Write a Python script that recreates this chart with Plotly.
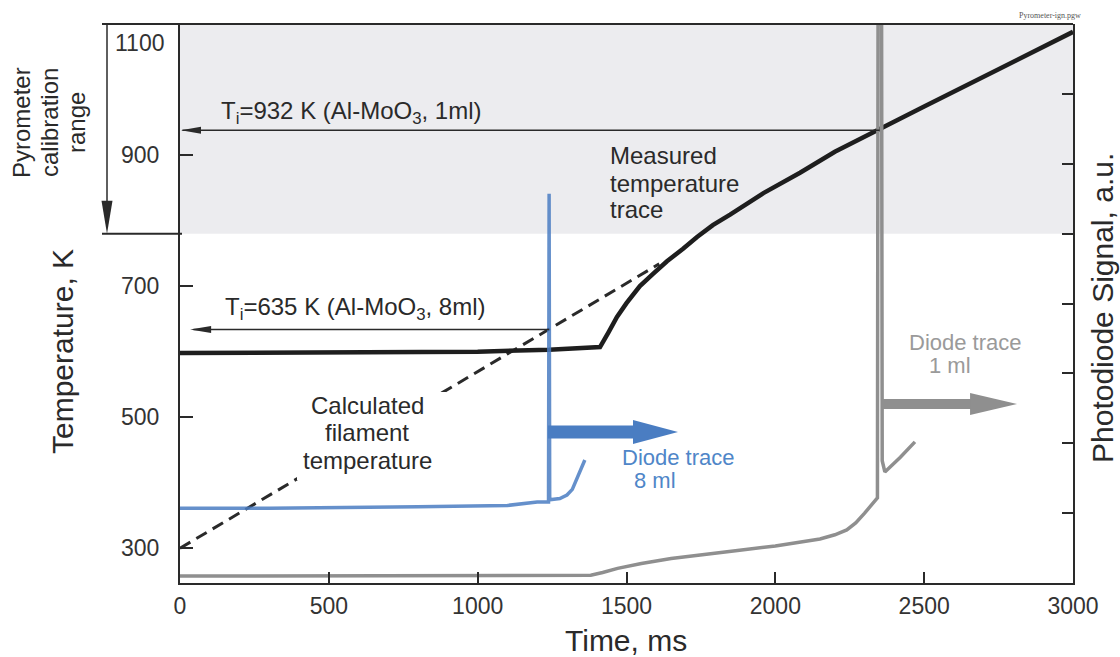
import plotly.graph_objects as go

# ---------------- data ----------------
time_measured = [0, 500, 1000, 1240, 1411, 1440, 1468, 1500, 1545, 1590, 1636, 1690, 1737, 1790, 1848,
                 1960, 2083, 2200, 2350, 2500, 2750, 3000]
temp_measured = [598, 599, 600, 603, 607, 630, 653, 674, 700, 719, 738, 757, 775, 793, 809,
                 842, 873, 905, 940, 974, 1031, 1088]

time_calculated = [0, 1610]
temp_calculated = [300, 734]

time_diode_8ml = [0, 300, 800, 1100, 1200, 1238, 1240, 1242, 1276, 1300, 1318, 1332, 1346, 1360]
signal_diode_8ml = [1.07, 1.07, 1.09, 1.11, 1.16, 1.16, 5.57, 1.19, 1.21, 1.26, 1.34, 1.47, 1.62, 1.76]

time_diode_1ml = [0, 1000, 1380, 1420, 1470, 1550, 1650, 1880, 2000, 2150, 2200, 2240, 2270, 2300, 2330,
                  2343, 2345, 2357, 2359, 2368, 2420, 2469]
signal_diode_1ml = [0.10, 0.10, 0.11, 0.15, 0.21, 0.28, 0.35, 0.47, 0.53, 0.63, 0.69, 0.76, 0.86, 1.00, 1.15,
                    1.22, 8.0, 8.0, 1.75, 1.59, 1.80, 2.02]

x_ticks = [0, 500, 1000, 1500, 2000, 2500, 3000]
y_ticks = [300, 500, 700, 900]
y2_ticks = [1, 2, 3, 4, 5, 6, 7]

# annotated values
ti_1ml_time, ti_1ml_temp = 2350, 938
ti_8ml_time, ti_8ml_temp = 1240, 634
calib_min, calib_max = 780, 1100
arrow8_sig, arrow8_tip = 2.16, 1673
arrow1_sig, arrow1_start, arrow1_tip = 2.56, 2355, 2812

# ---------------- layout geometry ----------------
W, H = 1120, 657
L, R, T, B = 180, 47, 24, 74
PW, PH = W - L - R, H - T - B
FONT = "Liberation Sans, Arial, sans-serif"
DARK = "#2a2a2a"
BLUE = "#4a7dc2"
GRAY = "#8f8f8f"


def px(xp):
    return (xp - L) / PW


def py(yp):
    return (T + PH - yp) / PH


fig = go.Figure()

fig.add_trace(go.Scatter(x=time_diode_1ml, y=signal_diode_1ml, yaxis="y2", mode="lines",
                         line=dict(color=GRAY, width=3.5), showlegend=False))
fig.add_trace(go.Scatter(x=time_diode_8ml, y=signal_diode_8ml, yaxis="y2", mode="lines",
                         line=dict(color="rgba(74,125,194,0.85)", width=3.5), showlegend=False))
fig.add_trace(go.Scatter(x=time_calculated, y=temp_calculated, mode="lines",
                         line=dict(color=DARK, width=3, dash="12px,7px"), showlegend=False))
fig.add_trace(go.Scatter(x=time_measured, y=temp_measured, mode="lines",
                         line=dict(color="#1e1e1e", width=4.5), showlegend=False))

shapes = []
# calibration shaded band
shapes.append(dict(type="rect", xref="x", yref="y", x0=0, x1=3000, y0=calib_min, y1=calib_max,
                   fillcolor="#ececef", line=dict(width=0), layer="below"))
# top border extended left
shapes.append(dict(type="line", xref="paper", yref="paper", x0=px(102), x1=1, y0=1, y1=1,
                   line=dict(color=DARK, width=2), layer="above"))
# lower bound of calibration range
shapes.append(dict(type="line", xref="paper", yref="y", x0=px(102), x1=px(182), y0=calib_min, y1=calib_min,
                   line=dict(color=DARK, width=2), layer="above"))
# calibration vertical arrow
shapes.append(dict(type="line", xref="paper", yref="y", x0=px(107), x1=px(107), y0=calib_max, y1=calib_min + 20,
                   line=dict(color=DARK, width=1.5), layer="above"))
shapes.append(dict(type="path", xref="paper", yref="y", xsizemode="pixel", ysizemode="pixel",
                   xanchor=px(107), yanchor=calib_min, path="M0,0 L-5.5,33 L5.5,33 Z",
                   fillcolor=DARK, line=dict(width=0), layer="above"))
# white block behind the 'Calculated filament temperature' label
shapes.append(dict(type="rect", xref="paper", yref="paper", x0=px(297), x1=px(446), y0=py(480), y1=py(392),
                   fillcolor="white", line=dict(width=0), layer="above"))
# Ti arrows
shapes.append(dict(type="line", xref="x", yref="y", x0=8, x1=ti_1ml_time, y0=ti_1ml_temp, y1=ti_1ml_temp,
                   line=dict(color=DARK, width=1.5), layer="above"))
shapes.append(dict(type="path", xref="x", yref="y", xsizemode="pixel", ysizemode="pixel",
                   xanchor=0, yanchor=ti_1ml_temp, path="M1,0 L21,3.5 L21,-3.5 Z",
                   fillcolor=DARK, line=dict(width=0), layer="above"))
shapes.append(dict(type="line", xref="x", yref="y", x0=45, x1=ti_8ml_time, y0=ti_8ml_temp, y1=ti_8ml_temp,
                   line=dict(color=DARK, width=1.5), layer="above"))
shapes.append(dict(type="path", xref="x", yref="y", xsizemode="pixel", ysizemode="pixel",
                   xanchor=34, yanchor=ti_8ml_temp, path="M0,0 L21,3.5 L21,-3.5 Z",
                   fillcolor=DARK, line=dict(width=0), layer="above"))
# blue diode arrow
shapes.append(dict(type="line", xref="x", yref="y2", x0=ti_8ml_time - 4, x1=arrow8_tip - 140,
                   y0=arrow8_sig, y1=arrow8_sig, line=dict(color=BLUE, width=13), layer="above"))
shapes.append(dict(type="path", xref="x", yref="y2", xsizemode="pixel", ysizemode="pixel",
                   xanchor=arrow8_tip, yanchor=arrow8_sig, path="M0,0 L-45,12 L-45,-12 Z",
                   fillcolor=BLUE, line=dict(width=0), layer="above"))
# gray diode arrow
shapes.append(dict(type="line", xref="x", yref="y2", x0=arrow1_start, x1=arrow1_tip - 150,
                   y0=arrow1_sig, y1=arrow1_sig, line=dict(color=GRAY, width=10), layer="above"))
shapes.append(dict(type="path", xref="x", yref="y2", xsizemode="pixel", ysizemode="pixel",
                   xanchor=arrow1_tip, yanchor=arrow1_sig, path="M0,0 L-47,11 L-47,-11 Z",
                   fillcolor=GRAY, line=dict(width=0), layer="above"))

annotations = []


def ann(text, xp, yp, size=24, color="#2a2a2a", xanchor="center", angle=0, family=FONT):
    annotations.append(dict(text=text, xref="paper", yref="paper", x=px(xp), y=py(yp),
                            xanchor=xanchor, yanchor="middle", showarrow=False, textangle=angle,
                            font=dict(family=family, size=size, color=color)))


ann("1100", 166, 43, size=23, color="#333", xanchor="right")
ann("Temperature, K", 62, 352, size=30, angle=-90)
ann("Photodiode Signal, a.u.", 1102, 308, size=30, angle=-90)
ann("Time, ms", 626, 640, size=30)
ann("Pyrometer", 21, 123, size=24, angle=-90)
ann("calibration", 49, 123, size=24, angle=-90)
ann("range", 76, 123, size=24, angle=-90)
ann("T<sub>i</sub>=932 K (Al-MoO<sub>3</sub>, 1ml)", 219, 112, xanchor="left")
ann("T<sub>i</sub>=635 K (Al-MoO<sub>3</sub>, 8ml)", 223, 308, xanchor="left")
ann("Measured", 608, 155, xanchor="left")
ann("temperature", 608, 183, xanchor="left")
ann("trace", 608, 210, xanchor="left")
ann("Calculated", 367, 405)
ann("filament", 367, 432)
ann("temperature", 367, 460)
ann("Diode trace", 620, 457, size=22, color="#4f86c8", xanchor="left")
ann("8 ml", 632, 480, size=22, color="#4f86c8", xanchor="left")
ann("Diode trace", 907, 342, size=22, color="#9a9a9a", xanchor="left")
ann("1 ml", 927, 365, size=22, color="#9a9a9a", xanchor="left")
ann("Pyrometer-ign.pgw", 1050, 15, size=8, color="#555", family="Liberation Serif, serif")

axis_common = dict(showgrid=False, zeroline=False, showline=True, linecolor=DARK, linewidth=2,
                   ticks="inside", tickcolor=DARK, tickwidth=1.5,
                   tickfont=dict(family=FONT, size=23, color="#333"))

fig.update_layout(
    width=W, height=H,
    margin=dict(l=L, r=R, t=T, b=B, pad=0),
    paper_bgcolor="white", plot_bgcolor="white",
    xaxis=dict(range=[0, 3000], tickvals=x_ticks, ticklen=11, ticklabelstandoff=1, **axis_common),
    yaxis=dict(range=[247, 1100], tickvals=y_ticks, ticklen=13, ticklabelstandoff=14, **axis_common),
    yaxis2=dict(range=[0, 8], tickvals=y2_ticks, ticklen=11, overlaying="y", side="right",
                showticklabels=False, **axis_common),
    shapes=shapes,
    annotations=annotations,
    showlegend=False,
)

fig.write_html("out.html")
